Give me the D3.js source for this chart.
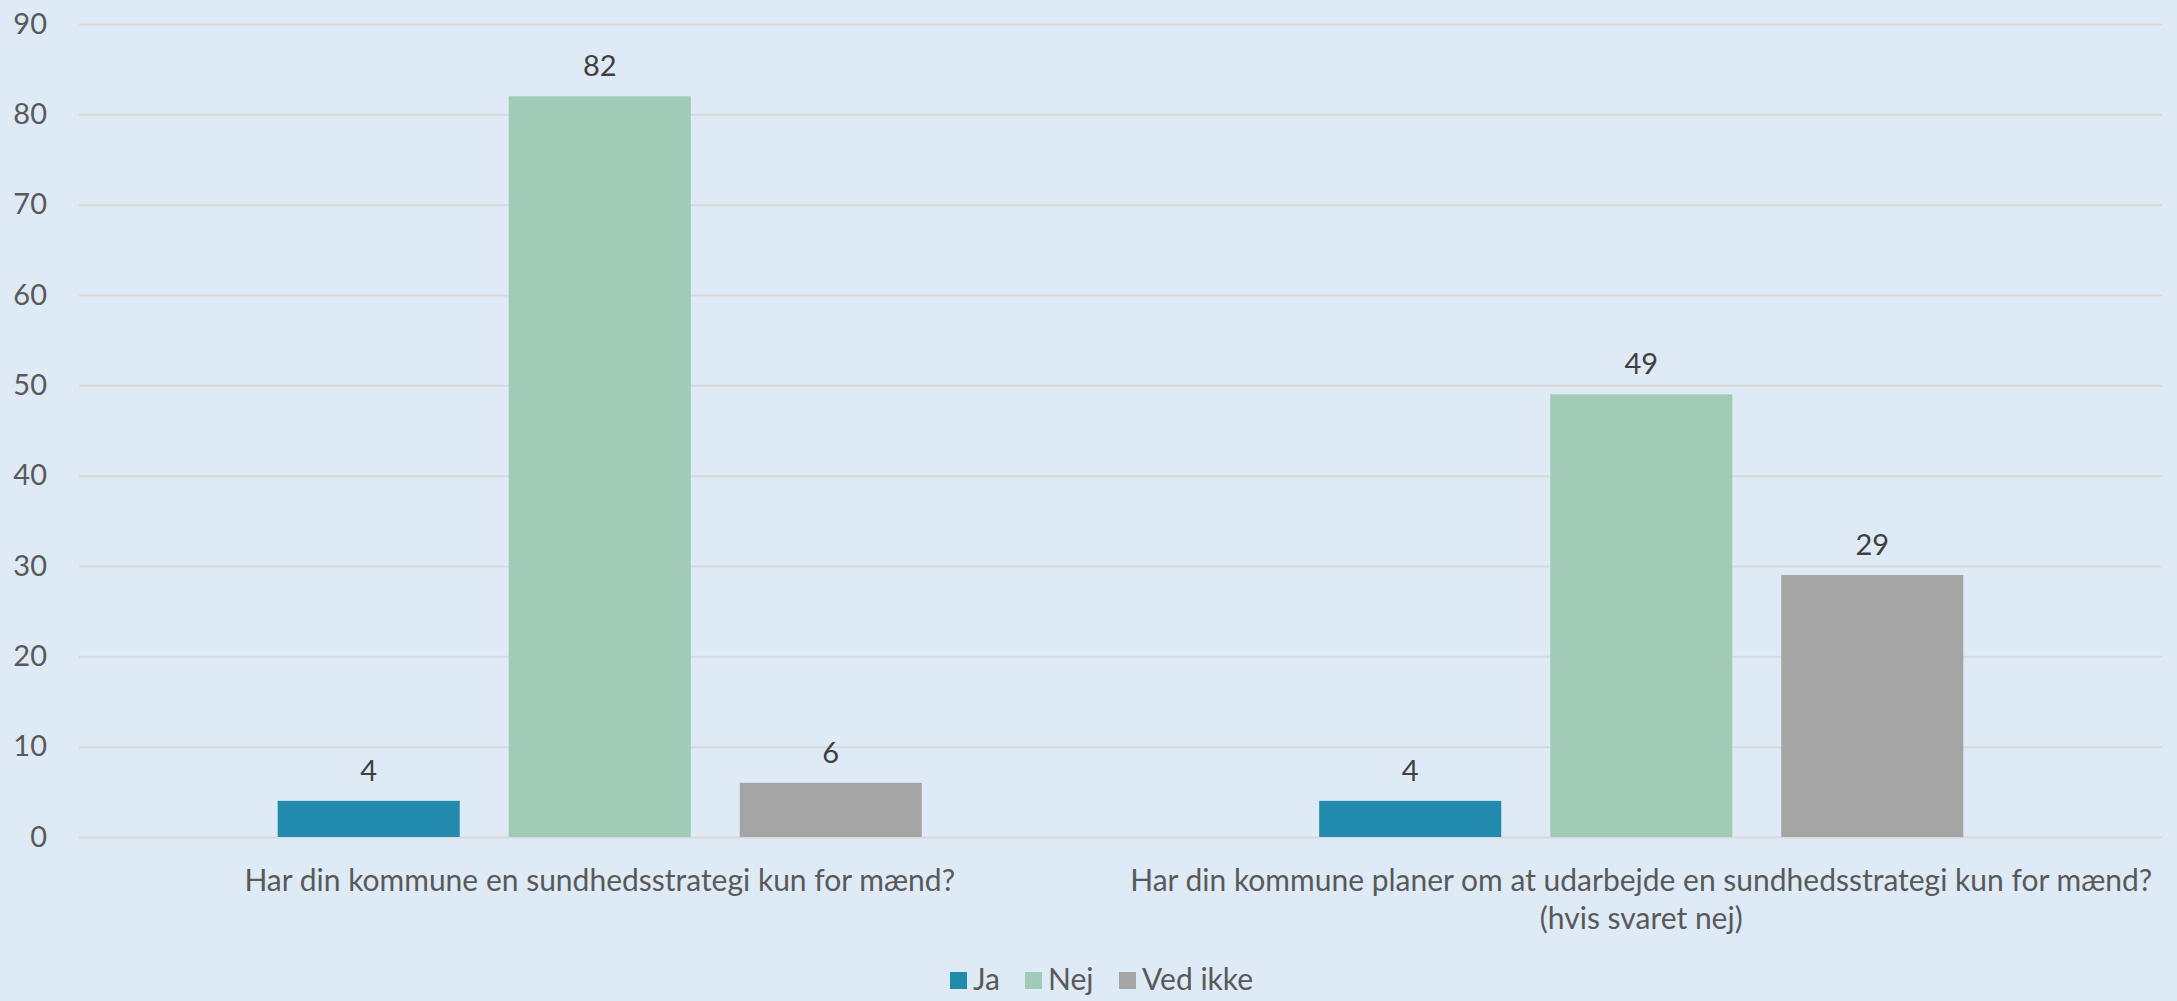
<!DOCTYPE html>
<html>
<head>
<meta charset="utf-8">
<script src="https://cdn.jsdelivr.net/npm/d3@7"></script>
<style>
    html, body { margin: 0; padding: 0; background: #DEEAF6; }
    svg { display: block; }
    text { font-family: Lato, "Open Sans", sans-serif; }
</style>
</head>
<body>
<svg id="chart"></svg>
<script>
/*****************************************************************************
 *  Data
 */
var CATEGORIES = [
    ["Har din kommune en sundhedsstrategi kun for mænd?"],
    ["Har din kommune planer om at udarbejde en sundhedsstrategi kun for mænd?", "(hvis svaret nej)"]
];
var SERIES = ["Ja", "Nej", "Ved ikke"];
var JA_VALUES = [4, 4];
var NEJ_VALUES = [82, 49];
var VED_IKKE_VALUES = [6, 29];
var Y_TICKS = [0, 10, 20, 30, 40, 50, 60, 70, 80, 90];

/*****************************************************************************
 *  Layout
 */
var CANVAS_WIDTH = 2177;
var CANVAS_HEIGHT = 1001;
var LEFT = 79;
var RIGHT = 2162;
var TOP = 24;
var BOTTOM = 837;
var SERIES_COLORS = ["#228AAC", "#A1CBB7", "#A5A5A5"];
var TEXT_COLOR = "#595959";
var LABEL_COLOR = "#404040";
var GRID_COLOR = "#D9D9D9";
var FONT_SIZE = 29;
var CAT_FONT_SIZE = 30;

var svg = d3.select("#chart")
    .attr("width", CANVAS_WIDTH)
    .attr("height", CANVAS_HEIGHT);

var seriesValues = [JA_VALUES, NEJ_VALUES, VED_IKKE_VALUES];
var rows = CATEGORIES.map((c, i) => SERIES.map((s, j) => ({ cat: i, series: j, value: seriesValues[j][i] })));

var x0 = d3.scaleBand()
    .domain(d3.range(CATEGORIES.length))
    .range([LEFT, RIGHT]);

var x1 = d3.scaleBand()
    .domain(d3.range(SERIES.length))
    .range([0, x0.bandwidth()])
    .paddingInner(0.212)
    .paddingOuter(0.86);

var yScale = d3.scaleLinear()
    .domain([0, 90])
    .range([BOTTOM, TOP]);

// Gridlines and tick labels
var yAxis = d3.axisLeft(yScale)
    .tickValues(Y_TICKS)
    .tickSize(-(RIGHT - LEFT))
    .tickPadding(32);

var axisG = svg.append("g")
    .attr("transform", "translate(" + LEFT + ",0)")
    .call(yAxis);
axisG.select(".domain").remove();
axisG.selectAll(".tick line")
    .attr("stroke", GRID_COLOR)
    .attr("stroke-width", 2);
axisG.selectAll(".tick text")
    .attr("fill", TEXT_COLOR)
    .style("font-size", FONT_SIZE + "px")
    .style("font-family", "Lato, 'Open Sans', sans-serif");

// Bars
var groups = svg.selectAll(".cat-group")
    .data(rows)
    .enter()
    .append("g")
    .attr("class", "cat-group")
    .attr("transform", (d, i) => "translate(" + x0(i) + ",0)");

groups.selectAll("rect")
    .data(d => d)
    .enter()
    .append("rect")
    .attr("x", d => x1(d.series))
    .attr("y", d => yScale(d.value))
    .attr("width", x1.bandwidth())
    .attr("height", d => yScale(0) - yScale(d.value))
    .attr("fill", d => SERIES_COLORS[d.series]);

// Data labels
groups.selectAll(".data-label")
    .data(d => d)
    .enter()
    .append("text")
    .attr("class", "data-label")
    .attr("text-anchor", "middle")
    .attr("x", d => x1(d.series) + x1.bandwidth() / 2)
    .attr("y", d => yScale(d.value) - 20)
    .attr("fill", LABEL_COLOR)
    .style("font-size", FONT_SIZE + "px")
    .text(d => d.value);

// Category labels
CATEGORIES.forEach((lines, i) => {
    svg.append("text")
        .attr("text-anchor", "middle")
        .attr("x", x0(i) + x0.bandwidth() / 2)
        .attr("y", 891)
        .attr("fill", TEXT_COLOR)
        .style("font-size", CAT_FONT_SIZE + "px")
        .selectAll("tspan")
        .data(lines)
        .enter()
        .append("tspan")
        .attr("x", x0(i) + x0.bandwidth() / 2)
        .attr("dy", (d, k) => k === 0 ? 0 : 38)
        .text(d => d);
});

// Legend
var legendX = [950, 1025, 1119];
var legend = svg.selectAll(".legend")
    .data(SERIES)
    .enter()
    .append("g")
    .attr("class", "legend")
    .attr("transform", (d, i) => "translate(" + legendX[i] + ",972)");

legend.append("rect")
    .attr("width", 17)
    .attr("height", 17)
    .attr("fill", (d, i) => SERIES_COLORS[i]);

legend.append("text")
    .attr("x", 23)
    .attr("y", 18)
    .attr("fill", TEXT_COLOR)
    .style("font-size", CAT_FONT_SIZE + "px")
    .text(d => d);
</script>
</body>
</html>
